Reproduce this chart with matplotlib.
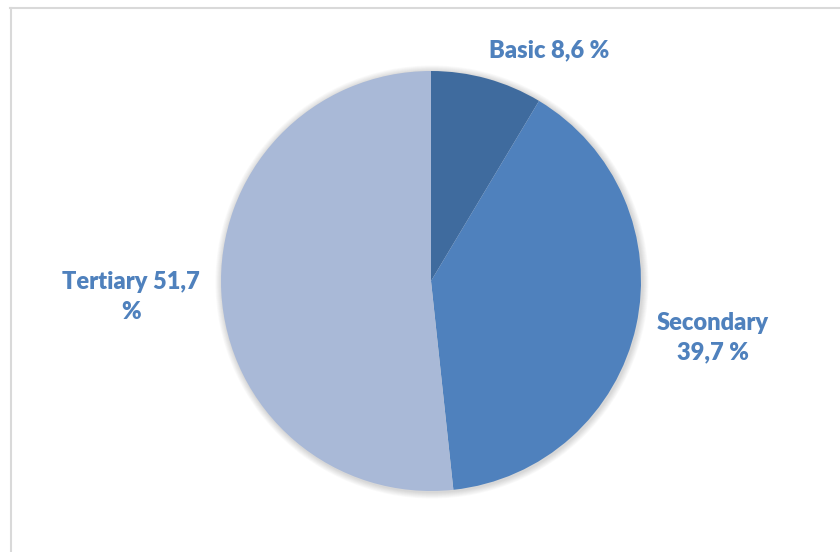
import matplotlib.pyplot as plt
from matplotlib.patches import Circle
from matplotlib.lines import Line2D

# education level shares (%)
levels = ['Basic', 'Secondary', 'Tertiary']
shares = [8.6, 39.7, 51.7]
colors = ['#3F6B9E', '#4F81BD', '#A9B9D7']
label_color = '#4F81BD'

fig = plt.figure(figsize=(8.4, 5.52), dpi=100)
ax = fig.add_axes([0, 0, 1, 1])

# chart frame (only top and left edges fall inside the image)
ax.add_line(Line2D([10, 840], [544, 544], color='#D9D9D9', lw=1.5))
ax.add_line(Line2D([10.5, 10.5], [0, 544], color='#D9D9D9', lw=1.5))

cx, cy, r = 431, 271, 210

# soft shadow around the pie
for i in range(8):
    ax.add_patch(Circle((cx + 1, cy - 1), r + 1 + i * 0.8, color='black',
                        alpha=0.018, lw=0, zorder=1))

wedges, _ = ax.pie(shares, colors=colors, startangle=90, counterclock=False,
                   center=(cx, cy), radius=r, frame=True,
                   wedgeprops=dict(linewidth=0, zorder=2))
ax.set_xlim(0, 840)
ax.set_ylim(0, 552)
ax.set_aspect('equal')
ax.axis('off')

font = dict(family='Lato', weight='heavy', size=17, color=label_color,
            ha='center', va='center', linespacing=1.42)
ax.text(549, 502, f'{levels[0]} {shares[0]:.1f} %'.replace('.', ','), **font)
ax.text(713, 214, f'{levels[1]}\n{shares[1]:.1f} %'.replace('.', ','), **font)
ax.text(131, 255, f'{levels[2]} {shares[2]:.1f}\n%'.replace('.', ','), **font)

fig.savefig('out.png', dpi=100)
